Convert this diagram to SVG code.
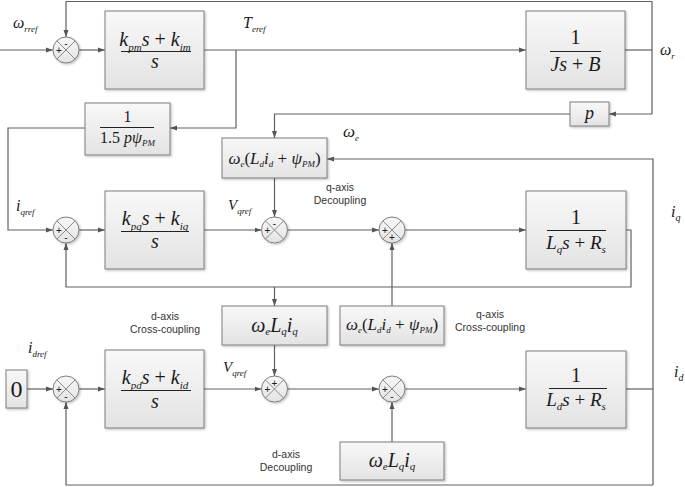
<svg xmlns="http://www.w3.org/2000/svg" width="685" height="487" viewBox="0 0 685 487">
<defs>
<linearGradient id="g" x1="0" y1="0" x2="0" y2="1">
<stop offset="0" stop-color="#f8f8f8"/><stop offset="1" stop-color="#e3e3e3"/>
</linearGradient>
<filter id="sh" x="-10%" y="-10%" width="130%" height="130%">
<feDropShadow dx="1.2" dy="1.2" stdDeviation="0.8" flood-color="#000" flood-opacity="0.25"/>
</filter>
<marker id="a" markerWidth="7" markerHeight="6" refX="7" refY="3" orient="auto" markerUnits="userSpaceOnUse">
<path d="M0,0.5 L7,3 L0,5.5 z" fill="#555"/>
</marker>
</defs>
<style>
.blk{fill:url(#g);stroke:#7f7f7f;stroke-width:1;filter:url(#sh)}
.sc{fill:url(#g);stroke:#7f7f7f;stroke-width:1;filter:url(#sh)}
.x{stroke:#7f7f7f;stroke-width:0.9}
.ln{fill:none;stroke:#606060;stroke-width:1.2}
.ar{marker-end:url(#a)}
.bar{stroke:#222;stroke-width:1}
.m{font-family:"Liberation Serif","Times New Roman",serif;font-style:italic;fill:#1a1a1a}
.up{font-style:normal}
.sb{font-size:11px}
.sg{font-family:"Liberation Sans",Arial,sans-serif;font-size:10px;text-anchor:middle;fill:#222}
.lb{font-family:"Liberation Sans",Arial,sans-serif;font-size:10.5px;text-anchor:middle;fill:#333}
</style>

<g id="connectors">
<path class="ln ar" d="M0,50 H53"/>
<path class="ln ar" d="M79,50 H105"/>
<path class="ln ar" d="M204,50 H526"/>
<path class="ln ar" d="M236,50 V128 H170"/>
<path class="ln" d="M625,50 H652"/>
<path class="ln ar" d="M652,114 V1.5 H66 V37"/>
<path class="ln ar" d="M652,114 H609"/>
<path class="ln ar" d="M570,114 H274.5 V138"/>
<path class="ln ar" d="M85,128 H8 V230 H53"/>
<path class="ln ar" d="M79,230 H105"/>
<path class="ln ar" d="M204,230 H261.5"/>
<path class="ln ar" d="M274.5,178 V217"/>
<path class="ln ar" d="M287.5,230 H379"/>
<path class="ln ar" d="M405,230 H526"/>
<path class="ln ar" d="M626,230 H631 V287 H66 V243"/>
<path class="ln ar" d="M274.5,287 V306"/>
<path class="ln ar" d="M392,306 V243"/>
<path class="ln ar" d="M274.5,345 V376"/>
<path class="ln ar" d="M27,389 H53"/>
<path class="ln ar" d="M79,389 H105"/>
<path class="ln ar" d="M204,389 H261.5"/>
<path class="ln ar" d="M287.5,389 H379"/>
<path class="ln ar" d="M405,389 H526"/>
<path class="ln" d="M626,389 H653"/>
<path class="ln ar" d="M653,485 V159 H327"/>
<path class="ln ar" d="M653,485 H66 V402"/>
<path class="ln ar" d="M392,442 V402"/>
</g>

<g id="sum1"><circle class="sc" cx="66" cy="50" r="13"/><path class="x" d="M56.8,40.8 L75.2,59.2 M75.2,40.8 L56.8,59.2"/><text class="sg" x="66" y="46.5">-</text><text class="sg" x="59" y="54">+</text></g>
<g id="sum2"><circle class="sc" cx="66" cy="230" r="13"/><path class="x" d="M56.8,220.8 L75.2,239.2 M75.2,220.8 L56.8,239.2"/><text class="sg" x="59" y="234">+</text><text class="sg" x="66" y="240.5">-</text></g>
<g id="sum3"><circle class="sc" cx="274.5" cy="230" r="13"/><path class="x" d="M265.3,220.8 L283.7,239.2 M283.7,220.8 L265.3,239.2"/><text class="sg" x="274.5" y="226.5">-</text><text class="sg" x="267.5" y="234">+</text></g>
<g id="sum4"><circle class="sc" cx="392" cy="230" r="13"/><path class="x" d="M382.8,220.8 L401.2,239.2 M401.2,220.8 L382.8,239.2"/><text class="sg" x="385" y="234">+</text><text class="sg" x="392" y="241">+</text></g>
<g id="sum5"><circle class="sc" cx="66" cy="389" r="13"/><path class="x" d="M56.8,379.8 L75.2,398.2 M75.2,379.8 L56.8,398.2"/><text class="sg" x="59" y="393">+</text><text class="sg" x="66" y="399.5">-</text></g>
<g id="sum6"><circle class="sc" cx="274.5" cy="389" r="13"/><path class="x" d="M265.3,379.8 L283.7,398.2 M283.7,379.8 L265.3,398.2"/><text class="sg" x="274.5" y="386.5">+</text><text class="sg" x="267.5" y="393">+</text></g>
<g id="sum7"><circle class="sc" cx="392" cy="389" r="13"/><path class="x" d="M382.8,379.8 L401.2,398.2 M401.2,379.8 L382.8,398.2"/><text class="sg" x="385" y="393">+</text><text class="sg" x="392" y="399.5">-</text></g>

<g id="pi_speed"><rect class="blk" x="105" y="11" width="99" height="78"/>
<text class="m" x="155" y="46" font-size="20" text-anchor="middle">k<tspan class="sb" dy="5">pm</tspan><tspan dy="-5">s</tspan><tspan class="up"> + </tspan>k<tspan class="sb" dy="5">im</tspan></text>
<line class="bar" x1="121" y1="51.5" x2="191" y2="51.5"/>
<text class="m" x="155" y="68" font-size="20" text-anchor="middle">s</text></g>

<g id="mech"><rect class="blk" x="526" y="11" width="99" height="78"/>
<text class="m up" x="575.5" y="44" font-size="20" text-anchor="middle">1</text>
<line class="bar" x1="550" y1="51.5" x2="601" y2="51.5"/>
<text class="m" x="575.5" y="71" font-size="20" text-anchor="middle">Js<tspan class="up"> + </tspan>B</text></g>

<g id="torque_gain"><rect class="blk" x="85" y="103" width="85" height="52"/>
<text class="m up" x="127.5" y="122" font-size="16" text-anchor="middle">1</text>
<line class="bar" x1="100" y1="127.5" x2="154" y2="127.5"/>
<text class="m" x="127.5" y="143" font-size="16" text-anchor="middle"><tspan class="up">1.5 </tspan>pψ<tspan font-size="9" dy="3">PM</tspan></text></g>

<g id="pole_pairs"><rect class="blk" x="570" y="102" width="39" height="24"/>
<text class="m" x="589.5" y="119" font-size="18" text-anchor="middle">p</text></g>

<g id="q_decouple"><rect class="blk" x="222" y="138" width="105" height="40"/>
<text class="m" x="274.5" y="164" font-size="17" text-anchor="middle">ω<tspan font-size="9" dy="3">e</tspan><tspan class="up" dy="-3">(</tspan>L<tspan font-size="9" dy="3">d</tspan><tspan dy="-3">i</tspan><tspan font-size="9" dy="3">d</tspan><tspan class="up" dy="-3"> + </tspan>ψ<tspan font-size="9" dy="3">PM</tspan><tspan class="up" dy="-3">)</tspan></text></g>

<g id="pi_q"><rect class="blk" x="105" y="191" width="99" height="78"/>
<text class="m" x="155" y="225" font-size="20" text-anchor="middle">k<tspan class="sb" dy="5">pq</tspan><tspan dy="-5">s</tspan><tspan class="up"> + </tspan>k<tspan class="sb" dy="5">iq</tspan></text>
<line class="bar" x1="121" y1="231.5" x2="189" y2="231.5"/>
<text class="m" x="155" y="248" font-size="20" text-anchor="middle">s</text></g>

<g id="plant_q"><rect class="blk" x="526" y="191" width="100" height="78"/>
<text class="m up" x="576" y="224" font-size="20" text-anchor="middle">1</text>
<line class="bar" x1="547" y1="230.5" x2="606" y2="230.5"/>
<text class="m" x="576" y="249" font-size="19" text-anchor="middle">L<tspan class="sb" dy="4">q</tspan><tspan dy="-4">s</tspan><tspan class="up"> + </tspan>R<tspan class="sb" dy="4">s</tspan></text></g>

<g id="d_cross"><rect class="blk" x="222" y="306" width="105" height="39"/>
<text class="m" x="274.5" y="332" font-size="20" text-anchor="middle">ω<tspan font-size="11" dy="3">e</tspan><tspan dy="-3">L</tspan><tspan font-size="11" dy="3">q</tspan><tspan dy="-3">i</tspan><tspan font-size="11" dy="3">q</tspan></text></g>

<g id="q_cross"><rect class="blk" x="340" y="306" width="104" height="39"/>
<text class="m" x="392" y="330" font-size="17" text-anchor="middle">ω<tspan font-size="9" dy="3">e</tspan><tspan class="up" dy="-3">(</tspan>L<tspan font-size="9" dy="3">d</tspan><tspan dy="-3">i</tspan><tspan font-size="9" dy="3">d</tspan><tspan class="up" dy="-3"> + </tspan>ψ<tspan font-size="9" dy="3">PM</tspan><tspan class="up" dy="-3">)</tspan></text></g>

<g id="zero"><rect class="blk" x="6" y="370" width="21" height="38"/>
<text class="m up" x="16.5" y="397" font-size="24" text-anchor="middle">0</text></g>

<g id="pi_d"><rect class="blk" x="105" y="350" width="99" height="78"/>
<text class="m" x="155" y="384" font-size="20" text-anchor="middle">k<tspan class="sb" dy="5">pd</tspan><tspan dy="-5">s</tspan><tspan class="up"> + </tspan>k<tspan class="sb" dy="5">id</tspan></text>
<line class="bar" x1="121" y1="390.5" x2="191" y2="390.5"/>
<text class="m" x="155" y="408" font-size="20" text-anchor="middle">s</text></g>

<g id="plant_d"><rect class="blk" x="526" y="351" width="100" height="77"/>
<text class="m up" x="576" y="382" font-size="20" text-anchor="middle">1</text>
<line class="bar" x1="549" y1="388.5" x2="607" y2="388.5"/>
<text class="m" x="576" y="406" font-size="19" text-anchor="middle">L<tspan class="sb" dy="4">d</tspan><tspan dy="-4">s</tspan><tspan class="up"> + </tspan>R<tspan class="sb" dy="4">s</tspan></text></g>

<g id="d_decouple"><rect class="blk" x="340" y="442" width="104" height="38"/>
<text class="m" x="392" y="467" font-size="20" text-anchor="middle">ω<tspan font-size="11" dy="3">e</tspan><tspan dy="-3">L</tspan><tspan font-size="11" dy="3">q</tspan><tspan dy="-3">i</tspan><tspan font-size="11" dy="3">q</tspan></text></g>

<g id="labels">
<text class="m" x="13" y="28" font-size="16">ω<tspan font-size="9" dy="4">rref</tspan></text>
<text class="m" x="243" y="28" font-size="16">T<tspan font-size="9" dy="4">eref</tspan></text>
<text class="m" x="660" y="55" font-size="16">ω<tspan font-size="9" dy="4">r</tspan></text>
<text class="m" x="343" y="137" font-size="17">ω<tspan font-size="9" dy="4">e</tspan></text>
<text class="m" x="16" y="211" font-size="16">i<tspan font-size="9" dy="4">qref</tspan></text>
<text class="m" x="228" y="210" font-size="15">V<tspan font-size="9" dy="4">qref</tspan></text>
<text class="m" x="671" y="217" font-size="16">i<tspan font-size="10" dy="4">q</tspan></text>
<text class="m" x="28" y="353" font-size="16">i<tspan font-size="9" dy="4">dref</tspan></text>
<text class="m" x="223" y="372" font-size="15">V<tspan font-size="9" dy="4">qref</tspan></text>
<text class="m" x="674" y="377" font-size="16">i<tspan font-size="10" dy="4">d</tspan></text>
<text class="lb" x="340" y="191">q-axis</text>
<text class="lb" x="340" y="204">Decoupling</text>
<text class="lb" x="165" y="320">d-axis</text>
<text class="lb" x="165" y="333">Cross-coupling</text>
<text class="lb" x="490" y="318">q-axis</text>
<text class="lb" x="490" y="331">Cross-coupling</text>
<text class="lb" x="286" y="458">d-axis</text>
<text class="lb" x="286" y="471">Decoupling</text>
</g>
</svg>
